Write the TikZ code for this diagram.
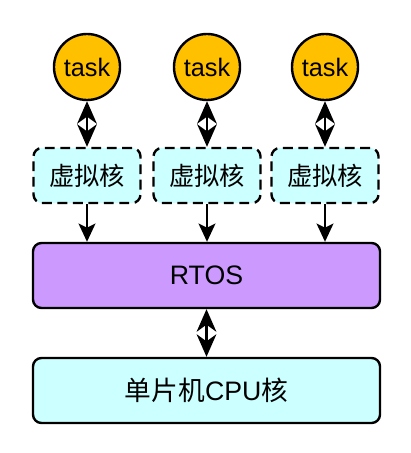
\documentclass[tikz,border=0pt]{standalone}
\usepackage{fontspec}
\setmainfont{Liberation Sans}
\newfontfamily\cjk{Noto Sans CJK SC}
\definecolor{taskgold}{RGB}{255, 192, 0}
\definecolor{vcyan}{RGB}{204, 255, 255}
\definecolor{rtospurple}{RGB}{204, 153, 255}
\usetikzlibrary{arrows.meta, positioning}

\begin{document}
\begin{tikzpicture}[
  taskc/.style={circle, draw, line width=1.7pt, fill=taskgold, minimum size=1.65cm, inner sep=0pt, font=\fontsize{18}{21}\selectfont},
  vbox/.style={draw, dashed, dash pattern=on 7pt off 4pt, line width=1.7pt, rounded corners=6pt, fill=vcyan, minimum width=2.675cm, minimum height=1.375cm, font=\cjk\fontsize{18}{21}\selectfont},
  layer/.style={draw, line width=1.7pt, rounded corners=6pt, minimum width=8.675cm, minimum height=1.625cm, font=\fontsize{19}{22}\selectfont},
  dbl/.style={{Stealth[length=16pt, width=14pt, inset=5pt]}-{Stealth[length=16pt, width=14pt, inset=5pt]}, line width=1.7pt},
  down/.style={-{Stealth[length=13pt, width=12pt, inset=3pt]}, line width=1.7pt}
]
  \useasboundingbox (0, 0) rectangle (10.25, -11.325);

  % tasks and their virtual cores
  \foreach \i/\x in {1/2.175, 2/5.175, 3/8.125} {
    \node[taskc] (task\i) at (\x, -1.675) {task};
    \node[vbox] (vc\i) at (\x, -4.3875) {虚拟核};
    \draw[dbl] (task\i) -- (vc\i);
  }

  \node[layer, fill=rtospurple] (rtos) at (5.1625, -6.8875) {RTOS};
  \node[layer, fill=vcyan] (cpu) at (5.1625, -9.7625) {{\cjk 单片机}CPU{\cjk 核}};

  \foreach \i in {1, 2, 3}
    \draw[down] (vc\i.south) -- (vc\i.south |- rtos.north);
  \draw[dbl] (rtos) -- (cpu);
\end{tikzpicture}
\end{document}
